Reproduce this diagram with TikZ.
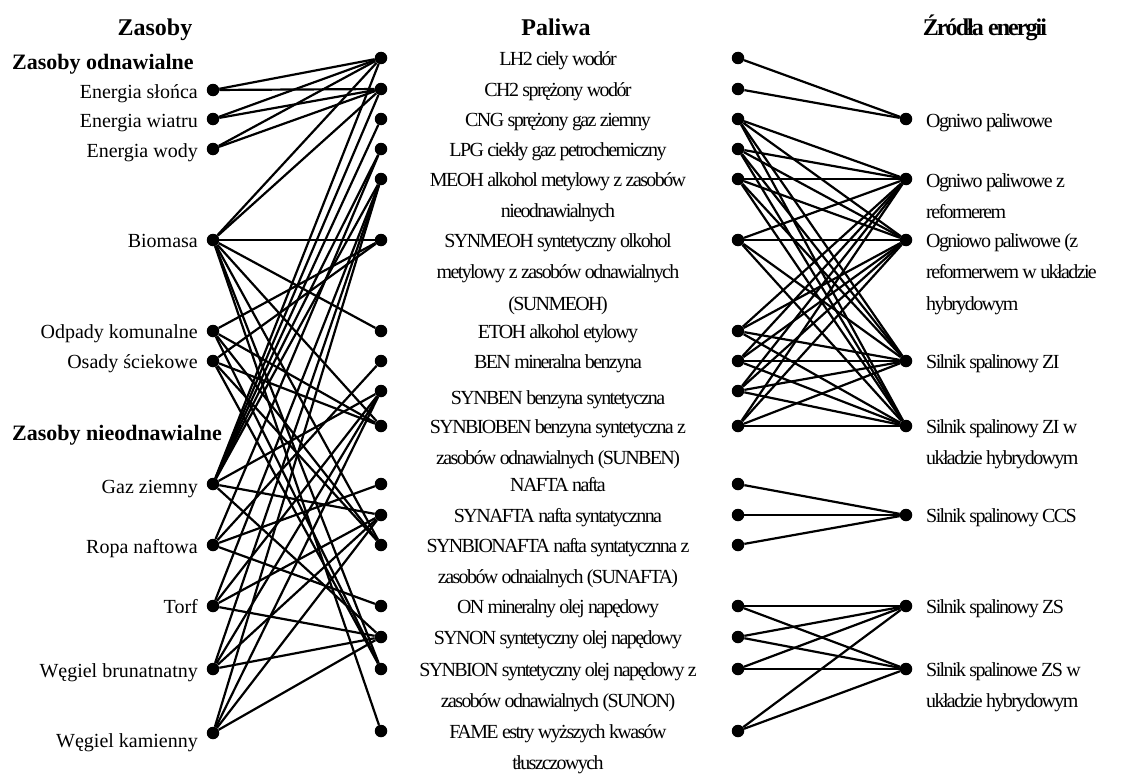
\documentclass[tikz,border=0pt]{standalone}
\usepackage{fontspec}
\setmainfont{Liberation Serif}

\tikzset{
  pkt/.style={circle,fill=black,inner sep=0pt,minimum size=12.5pt},
  lacz/.style={line width=2.2pt},
  opis/.style={inner sep=0pt,font=\fontsize{20}{31.5}\selectfont},
  opisw/.style={inner sep=0pt,font=\fontsize{20}{31.5}\selectfont\addfontfeatures{LetterSpace=-8}},
  tytul/.style={inner sep=0pt,font=\fontsize{24}{28}\selectfont\bfseries},
  podtytul/.style={inner sep=0pt,font=\fontsize{22}{26}\selectfont\bfseries}
}
\newcommand{\wiersze}[1]{\begin{tabular}[t]{@{}c@{}}#1\end{tabular}}
\newcommand{\wierszel}[1]{\begin{tabular}[t]{@{}l@{}}#1\end{tabular}}

\begin{document}
\begin{tikzpicture}[x=1pt,y=-1pt]
  \useasboundingbox (0,0) rectangle (1121,776);

  \node[tytul,anchor=base] (hzas) at (155,36) {Zasoby};
  \node[tytul,anchor=base] (hpal) at (556,36) {Paliwa};
  \node[tytul,anchor=base] (hzro) at (985,36) {\addfontfeatures{LetterSpace=-8}Źródła energii};
  \node[podtytul,anchor=base west] (hodn) at (12,70) {Zasoby odnawialne};
  \node[podtytul,anchor=base west] (hnie) at (12,440) {Zasoby nieodnawialne};

  % zasoby
  \node[pkt] (slonce) at (213,90) {};
  \node[pkt] (wiatr) at (213,119) {};
  \node[pkt] (woda) at (213,149) {};
  \node[pkt] (bio) at (213,240) {};
  \node[pkt] (odpady) at (213,331) {};
  \node[pkt] (osady) at (213,361) {};
  \node[pkt] (gaz) at (213,484) {};
  \node[pkt] (ropa) at (213,545) {};
  \node[pkt] (torf) at (213,606) {};
  \node[pkt] (wbr) at (213,669) {};
  \node[pkt] (wka) at (213,733) {};

  \node[opis,anchor=base east] (tslonce) at (198,98) {Energia słońca};
  \node[opis,anchor=base east] (twiatr) at (198,127) {Energia wiatru};
  \node[opis,anchor=base east] (twoda) at (198,157) {Energia wody};
  \node[opis,anchor=base east] (tbio) at (198,247) {Biomasa};
  \node[opis,anchor=base east] (todpady) at (198,338) {Odpady komunalne};
  \node[opis,anchor=base east] (tosady) at (198,368) {Osady ściekowe};
  \node[opis,anchor=base east] (tgaz) at (198,493) {Gaz ziemny};
  \node[opis,anchor=base east] (tropa) at (198,553) {Ropa naftowa};
  \node[opis,anchor=base east] (ttorf) at (198,613) {Torf};
  \node[opis,anchor=base east] (twbr) at (198,677) {Węgiel brunatnatny};
  \node[opis,anchor=base east] (twka) at (198,747) {Węgiel kamienny};

  % paliwa
  \node[pkt] (lh2) at (381,58) {};
  \node[pkt] (ch2) at (381,89) {};
  \node[pkt] (cng) at (381,119) {};
  \node[pkt] (lpg) at (381,149) {};
  \node[pkt] (meoh) at (381,179) {};
  \node[pkt] (synmeoh) at (381,240) {};
  \node[pkt] (etoh) at (381,331) {};
  \node[pkt] (ben) at (381,361) {};
  \node[pkt] (synben) at (381,391) {};
  \node[pkt] (sunben) at (381,426) {};
  \node[pkt] (nafta) at (381,484) {};
  \node[pkt] (synafta) at (381,515) {};
  \node[pkt] (sunafta) at (381,545) {};
  \node[pkt] (on) at (381,606) {};
  \node[pkt] (synon) at (381,637) {};
  \node[pkt] (sunon) at (381,669) {};
  \node[pkt] (fame) at (381,731) {};

  \node[pkt] (lh2p) at (738,58) {};
  \node[pkt] (ch2p) at (738,89) {};
  \node[pkt] (cngp) at (738,119) {};
  \node[pkt] (lpgp) at (738,149) {};
  \node[pkt] (meohp) at (738,179) {};
  \node[pkt] (synmeohp) at (738,240) {};
  \node[pkt] (etohp) at (738,331) {};
  \node[pkt] (benp) at (738,361) {};
  \node[pkt] (synbenp) at (738,391) {};
  \node[pkt] (sunbenp) at (738,426) {};
  \node[pkt] (naftap) at (738,484) {};
  \node[pkt] (synaftap) at (738,515) {};
  \node[pkt] (sunaftap) at (738,545) {};
  \node[pkt] (onp) at (738,606) {};
  \node[pkt] (synonp) at (738,637) {};
  \node[pkt] (sunonp) at (738,669) {};
  \node[pkt] (famep) at (738,731) {};

  \node[opisw,anchor=base] (tlh2) at (558,66) {LH2 ciely wodór};
  \node[opisw,anchor=base] (tch2) at (558,96) {CH2 sprężony wodór};
  \node[opisw,anchor=base] (tcng) at (558,126) {CNG sprężony gaz ziemny};
  \node[opisw,anchor=base] (tlpg) at (558,156) {LPG ciekły gaz petrochemiczny};
  \node[opisw,anchor=base] (tmeoh) at (558,186) {\wiersze{MEOH alkohol metylowy z zasobów\\nieodnawialnych}};
  \node[opisw,anchor=base] (tsynmeoh) at (558,247) {\wiersze{SYNMEOH syntetyczny olkohol\\metylowy z zasobów odnawialnych\\(SUNMEOH)}};
  \node[opisw,anchor=base] (tetoh) at (558,338) {ETOH alkohol etylowy};
  \node[opisw,anchor=base] (tben) at (558,368) {BEN mineralna benzyna};
  \node[opisw,anchor=base] (tsynben) at (558,404) {SYNBEN benzyna syntetyczna};
  \node[opisw,anchor=base] (tsunben) at (558,433) {\wiersze{SYNBIOBEN benzyna syntetyczna z\\zasobów odnawialnych (SUNBEN)}};
  \node[opisw,anchor=base] (tnafta) at (558,491) {NAFTA nafta};
  \node[opisw,anchor=base] (tsynafta) at (558,522) {SYNAFTA nafta syntatycznna};
  \node[opisw,anchor=base] (tsunafta) at (558,552) {\wiersze{SYNBIONAFTA nafta syntatycznna z\\zasobów odnaialnych (SUNAFTA)}};
  \node[opisw,anchor=base] (ton) at (558,613) {ON mineralny olej napędowy};
  \node[opisw,anchor=base] (tsynon) at (558,644) {SYNON syntetyczny olej napędowy};
  \node[opisw,anchor=base] (tsunon) at (558,676) {\wiersze{SYNBION syntetyczny olej napędowy z\\zasobów odnawialnych (SUNON)}};
  \node[opisw,anchor=base] (tfame) at (558,738) {\wiersze{FAME estry wyższych kwasów\\tłuszczowych}};

  % zrodla energii
  \node[pkt] (og) at (906,119) {};
  \node[pkt] (ogr) at (906,179) {};
  \node[pkt] (ogh) at (906,240) {};
  \node[pkt] (zi) at (906,361) {};
  \node[pkt] (zih) at (906,426) {};
  \node[pkt] (ccs) at (906,515) {};
  \node[pkt] (zs) at (906,606) {};
  \node[pkt] (zsh) at (906,669) {};

  \node[opisw,anchor=base west] (tog) at (926,127) {Ogniwo paliwowe};
  \node[opisw,anchor=base west] (togr) at (926,187) {\wierszel{Ogniwo paliwowe z\\reformerem}};
  \node[opisw,anchor=base west] (togh) at (926,247) {\wierszel{Ogniowo paliwowe (z\\reformerwem w układzie\\hybrydowym}};
  \node[opisw,anchor=base west] (tzi) at (926,368) {Silnik spalinowy ZI};
  \node[opisw,anchor=base west] (tzih) at (926,433) {\wierszel{Silnik spalinowy ZI w\\układzie hybrydowym}};
  \node[opisw,anchor=base west] (tccs) at (926,522) {Silnik spalinowy CCS};
  \node[opisw,anchor=base west] (tzs) at (926,613) {Silnik spalinowy ZS};
  \node[opisw,anchor=base west] (tzsh) at (926,676) {\wierszel{Silnik spalinowe ZS w\\układzie hybrydowym}};

  % zasoby -> paliwa
  \draw[lacz] (slonce) -- (lh2);
  \draw[lacz] (slonce) -- (ch2);
  \draw[lacz] (wiatr) -- (lh2);
  \draw[lacz] (wiatr) -- (ch2);
  \draw[lacz] (woda) -- (lh2);
  \draw[lacz] (woda) -- (ch2);

  \draw[lacz] (bio) -- (lh2);
  \draw[lacz] (bio) -- (ch2);
  \draw[lacz] (bio) -- (synmeoh);
  \draw[lacz] (bio) -- (etoh);
  \draw[lacz] (bio) -- (sunben);
  \draw[lacz] (bio) -- (sunafta);
  \draw[lacz] (bio) -- (sunon);
  \draw[lacz] (bio) -- (fame);

  \draw[lacz] (odpady) -- (synmeoh);
  \draw[lacz] (odpady) -- (sunben);
  \draw[lacz] (odpady) -- (sunafta);
  \draw[lacz] (odpady) -- (sunon);
  \draw[lacz] (osady) -- (synmeoh);
  \draw[lacz] (osady) -- (sunben);
  \draw[lacz] (osady) -- (sunafta);
  \draw[lacz] (osady) -- (sunon);

  \draw[lacz] (gaz) -- (lh2);
  \draw[lacz] (gaz) -- (ch2);
  \draw[lacz] (gaz) -- (cng);
  \draw[lacz] (gaz) -- (lpg);
  \draw[lacz] (gaz) -- (meoh);
  \draw[lacz] (gaz) -- (synben);
  \draw[lacz] (gaz) -- (synafta);
  \draw[lacz] (gaz) -- (synon);

  \draw[lacz] (ropa) -- (lpg);
  \draw[lacz] (ropa) -- (ben);
  \draw[lacz] (ropa) -- (nafta);
  \draw[lacz] (ropa) -- (on);

  \draw[lacz] (torf) -- (meoh);
  \draw[lacz] (torf) -- (synben);
  \draw[lacz] (torf) -- (synafta);
  \draw[lacz] (torf) -- (synon);
  \draw[lacz] (wbr) -- (meoh);
  \draw[lacz] (wbr) -- (synben);
  \draw[lacz] (wbr) -- (synafta);
  \draw[lacz] (wbr) -- (synon);
  \draw[lacz] (wka) -- (meoh);
  \draw[lacz] (wka) -- (synben);
  \draw[lacz] (wka) -- (synafta);
  \draw[lacz] (wka) -- (synon);

  % paliwa -> zrodla energii
  \draw[lacz] (lh2p) -- (og);
  \draw[lacz] (ch2p) -- (og);

  \draw[lacz] (cngp) -- (ogr);
  \draw[lacz] (cngp) -- (ogh);
  \draw[lacz] (cngp) -- (zi);
  \draw[lacz] (cngp) -- (zih);
  \draw[lacz] (lpgp) -- (ogr);
  \draw[lacz] (lpgp) -- (ogh);
  \draw[lacz] (lpgp) -- (zi);
  \draw[lacz] (lpgp) -- (zih);
  \draw[lacz] (meohp) -- (ogr);
  \draw[lacz] (meohp) -- (ogh);
  \draw[lacz] (meohp) -- (zi);
  \draw[lacz] (meohp) -- (zih);
  \draw[lacz] (synmeohp) -- (ogr);
  \draw[lacz] (synmeohp) -- (ogh);
  \draw[lacz] (synmeohp) -- (zi);
  \draw[lacz] (synmeohp) -- (zih);
  \draw[lacz] (etohp) -- (ogr);
  \draw[lacz] (etohp) -- (ogh);
  \draw[lacz] (etohp) -- (zi);
  \draw[lacz] (etohp) -- (zih);
  \draw[lacz] (benp) -- (ogr);
  \draw[lacz] (benp) -- (ogh);
  \draw[lacz] (benp) -- (zi);
  \draw[lacz] (benp) -- (zih);
  \draw[lacz] (synbenp) -- (ogr);
  \draw[lacz] (synbenp) -- (ogh);
  \draw[lacz] (synbenp) -- (zi);
  \draw[lacz] (synbenp) -- (zih);
  \draw[lacz] (sunbenp) -- (ogr);
  \draw[lacz] (sunbenp) -- (ogh);
  \draw[lacz] (sunbenp) -- (zi);
  \draw[lacz] (sunbenp) -- (zih);

  \draw[lacz] (naftap) -- (ccs);
  \draw[lacz] (synaftap) -- (ccs);
  \draw[lacz] (sunaftap) -- (ccs);

  \draw[lacz] (onp) -- (zs);
  \draw[lacz] (onp) -- (zsh);
  \draw[lacz] (synonp) -- (zs);
  \draw[lacz] (synonp) -- (zsh);
  \draw[lacz] (sunonp) -- (zs);
  \draw[lacz] (sunonp) -- (zsh);
  \draw[lacz] (famep) -- (zs);
  \draw[lacz] (famep) -- (zsh);
\end{tikzpicture}
\end{document}
